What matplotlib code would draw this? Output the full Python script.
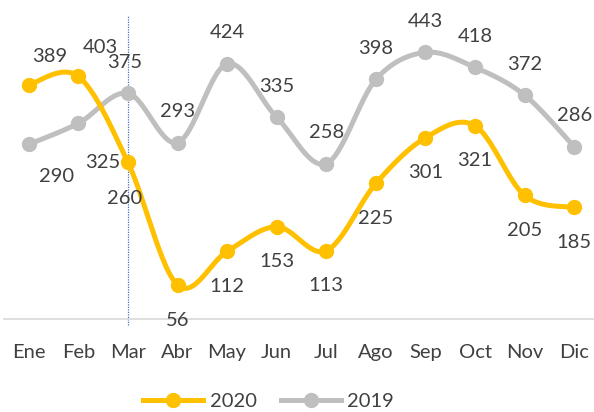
import numpy as np
import matplotlib.pyplot as plt

# monthly values
months = ["Ene", "Feb", "Mar", "Abr", "May", "Jun", "Jul", "Ago", "Sep", "Oct", "Nov", "Dic"]
v2020 = [389, 403, 260, 56, 112, 153, 113, 225, 301, 321, 205, 185]
v2019 = [290, 325, 375, 293, 424, 335, 258, 398, 443, 418, 372, 286]

YELLOW = "#FFC000"
GRAY = "#BFBFBF"
TXT = "#404040"

plt.rcParams['font.family'] = ['Lato', 'DejaVu Sans']


def smooth(x, y, n=30):
    # catmull-rom curve through the points (like excel "smoothed line")
    x = np.asarray(x, float)
    y = np.asarray(y, float)
    px = np.concatenate([[x[0]], x, [x[-1]]])
    py = np.concatenate([[y[0]], y, [y[-1]]])
    xs, ys = [], []
    t = np.linspace(0, 1, n)
    for i in range(1, len(px) - 2):
        x0, x1, x2, x3 = px[i - 1:i + 3]
        y0, y1, y2, y3 = py[i - 1:i + 3]
        # bezier control points
        cx1, cy1 = x1 + (x2 - x0) / 6, y1 + (y2 - y0) / 6
        cx2, cy2 = x2 - (x3 - x1) / 6, y2 - (y3 - y1) / 6
        bx = (1 - t)**3 * x1 + 3 * (1 - t)**2 * t * cx1 + 3 * (1 - t) * t**2 * cx2 + t**3 * x2
        by = (1 - t)**3 * y1 + 3 * (1 - t)**2 * t * cy1 + 3 * (1 - t) * t**2 * cy2 + t**3 * y2
        xs.append(bx)
        ys.append(by)
    return np.concatenate(xs), np.concatenate(ys)


fig = plt.figure(figsize=(5.94, 4.12), dpi=100)
ax = fig.add_axes([4 / 594, 0.2265, 1 - 4 / 594, 0.7295])
x = np.arange(len(months))

# vertical dotted marker at Mar
ax.plot([2, 2], [-11, 505], color="#4472C4", lw=0.9, ls=(0, (1, 1)), clip_on=False, zorder=1)

for vals, col, lab in [(v2019, GRAY, "2019"), (v2020, YELLOW, "2020")]:
    sx, sy = smooth(x, vals)
    ax.plot(sx, sy, color=col, lw=3.6, solid_capstyle='round', zorder=3)
    ax.plot(x, vals, 'o', color=col, ms=10, zorder=4)

# label offsets in pixels (dx, dy)
off2020 = [(21, 28), (22, 29)] + [(-3, -36)] + [(0, -35)] * 9
off2019 = [(28, -32), (24, -39), (-3, 31)] + [(0, 31)] * 9
for i in range(len(months)):
    ax.annotate(str(v2020[i]), (x[i], v2020[i]), xytext=off2020[i], textcoords='offset pixels',
                ha='center', va='center', fontsize=14.5, color=TXT, zorder=5)
    ax.annotate(str(v2019[i]), (x[i], v2019[i]), xytext=off2019[i], textcoords='offset pixels',
                ha='center', va='center', fontsize=14.5, color=TXT, zorder=5)

ax.set_xlim(-0.5, 11.4)
ax.set_ylim(0, 500)
ax.set_xticks(x)
ax.set_xticklabels(months, fontsize=14.5, color=TXT)
ax.tick_params(axis='x', length=0, pad=18)
ax.set_yticks([])
for s in ['top', 'right', 'left']:
    ax.spines[s].set_visible(False)
ax.spines['bottom'].set_color("#D9D9D9")
ax.spines['bottom'].set_linewidth(1.2)

# legend
h1, = ax.plot([], [], color=YELLOW, lw=3.6, marker='o', ms=10)
h2, = ax.plot([], [], color=GRAY, lw=3.6, marker='o', ms=10)
fig.legend([h1, h2], ["2020", "2019"], loc='center', bbox_to_anchor=(0.452, 0.025),
           ncol=2, frameon=False, fontsize=14.5, labelcolor=TXT,
           handlelength=3.0, handletextpad=0.3, columnspacing=1.2)

fig.savefig("out.png", dpi=100)
